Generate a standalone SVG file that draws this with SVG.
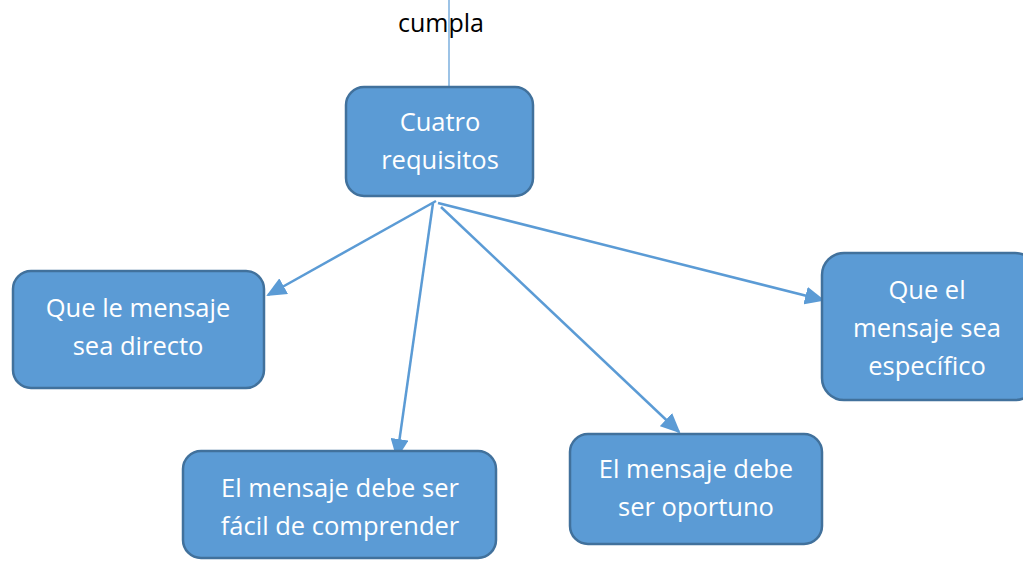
<svg xmlns="http://www.w3.org/2000/svg" width="1023" height="561" viewBox="0 0 1023 561">
<style>
.box{fill:#5B9BD5;stroke:#41719C;stroke-width:2.5}
.t{font-family:"Open Sans","Liberation Sans",sans-serif;font-size:25.5px;fill:#ffffff;text-anchor:middle}
.c{stroke:#5B9BD5;stroke-width:2.5;fill:none;marker-end:url(#ah)}
</style>
<defs>
<marker id="ah" markerWidth="20" markerHeight="18" refX="18" refY="9" orient="auto" markerUnits="userSpaceOnUse">
<path d="M0,0 L20,9 L0,18 z" fill="#5B9BD5"/>
</marker>
</defs>
<rect width="1023" height="561" fill="#ffffff"/>
<g id="top">
<line x1="449" y1="0" x2="449" y2="87" stroke="#5B9BD5" stroke-width="1.2"/>
<text x="441" y="32" font-family="'Open Sans','Liberation Sans',sans-serif" font-size="25" fill="#000000" text-anchor="middle">cumpla</text>
</g>
<g id="connectors">
<line class="c" x1="436" y1="201" x2="268" y2="295"/>
<line class="c" x1="433" y1="203" x2="397" y2="457"/>
<line class="c" x1="441" y1="207" x2="679" y2="432"/>
<line class="c" x1="438" y1="203" x2="823" y2="300"/>
</g>
<g id="n-cuatro">
<rect class="box" x="346" y="87" width="187" height="109" rx="18"/>
<text class="t" x="440" y="131">Cuatro</text>
<text class="t" x="440" y="169">requisitos</text>
</g>
<g id="n-directo">
<rect class="box" x="13" y="271" width="251" height="117" rx="18"/>
<text class="t" x="138" y="317">Que le mensaje</text>
<text class="t" x="138" y="355">sea directo</text>
</g>
<g id="n-facil">
<rect class="box" x="183" y="451" width="313" height="107" rx="18"/>
<text class="t" x="340" y="497">El mensaje debe ser</text>
<text class="t" x="340" y="535">fácil de comprender</text>
</g>
<g id="n-oportuno">
<rect class="box" x="570" y="434" width="252" height="110" rx="18"/>
<text class="t" x="696" y="478">El mensaje debe</text>
<text class="t" x="696" y="516">ser oportuno</text>
</g>
<g id="n-especifico">
<rect class="box" x="822" y="253" width="215" height="147" rx="22"/>
<text class="t" x="927" y="299">Que el</text>
<text class="t" x="927" y="337">mensaje sea</text>
<text class="t" x="927" y="375">específico</text>
</g>
</svg>
